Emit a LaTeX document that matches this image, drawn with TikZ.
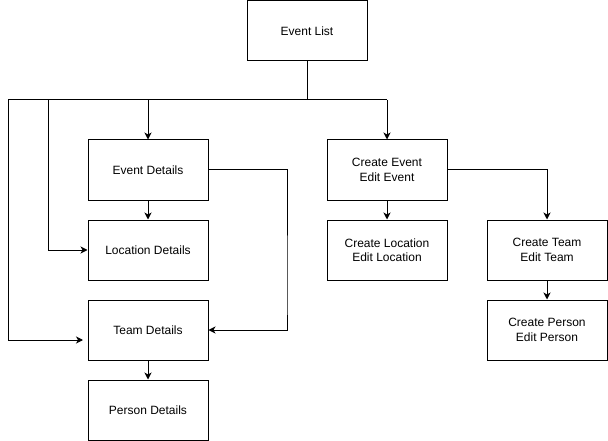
\documentclass[tikz,border=0pt]{standalone}
\usepackage{fontspec}
\setmainfont{Liberation Sans}
\usetikzlibrary{arrows.meta}
\begin{document}
\begin{tikzpicture}[x=1pt,y=-1pt,
  box/.style={draw,line width=1pt,minimum width=120pt,minimum height=60pt,inner sep=0pt,align=center,font=\fontsize{12}{14.5}\selectfont},
  conn/.style={line width=1pt,-{Stealth[length=7pt,width=7pt,inset=2pt]}},
  plain/.style={line width=1pt}]
\useasboundingbox (0,0) rectangle (608,441);
\node[box] (el) at (307,31) {Event List};
\node[box] (ed) at (148,170) {Event Details};
\node[box] (ld) at (148,250) {Location Details};
\node[box] (td) at (148,330) {Team Details};
\node[box] (pd) at (148,410) {Person Details};
\node[box] (ce) at (387,170) {Create Event\\Edit Event};
\node[box] (cl) at (387,250) {Create Location\\Edit Location};
\node[box] (ct) at (547,250) {Create Team\\Edit Team};
\node[box] (cp) at (547,330) {Create Person\\Edit Person};
\coordinate (hub) at (307,100);
\coordinate (l1) at (8,100);
\coordinate (l2) at (48,100);
\coordinate (tdin) at (83,340);
\draw[plain] (el.south) -- (hub);
\draw[plain] (l1) -- (387,100);
\draw[conn] (148,100) -- (ed.north);
\draw[conn] (387,100) -- (ce.north);
\draw[conn] (l2) |- (ld.west);
\draw[conn] (l1) |- (tdin);
\draw[conn] (ed) -- (ld);
\draw[conn] (ed.east) -| (287,300) |- (td.east);
\draw[conn] (td) -- (pd);
\draw[conn] (ce) -- (cl);
\draw[conn] (ce.east) -| (ct.north);
\draw[conn] (ct) -- (cp);
\end{tikzpicture}
\end{document}
